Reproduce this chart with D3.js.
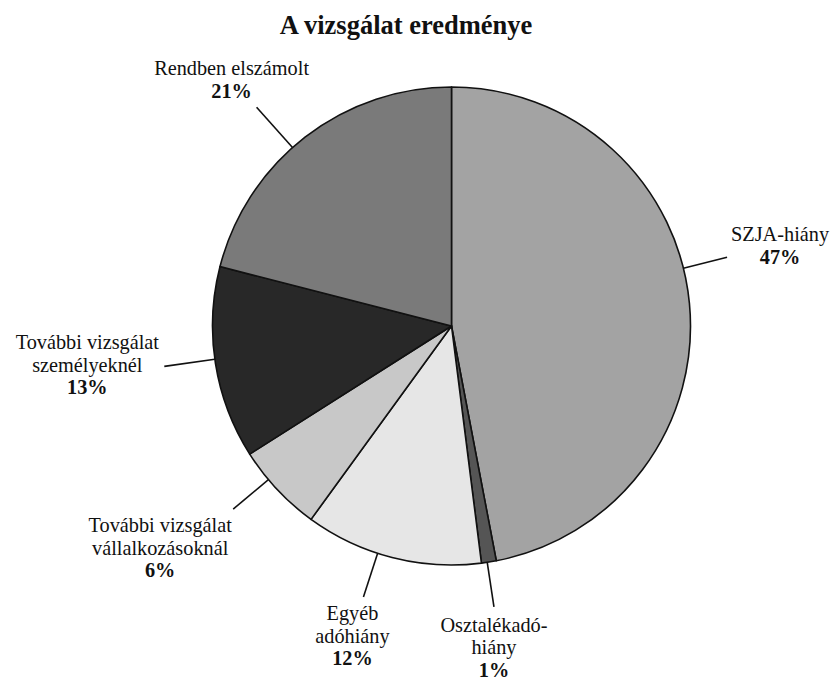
<!DOCTYPE html>
<html>
<head>
<meta charset="utf-8">
<script src="https://cdn.jsdelivr.net/npm/d3@7"></script>
<style>
  body { margin: 0; background: #fff; }
  svg text, svg tspan { font-family: "Liberation Serif", "Times New Roman", serif; fill: #111; }
</style>
</head>
<body>
<svg id="chart"></svg>
<script>
// slice data, clockwise from 12 o'clock
const categories = ["SZJA-hiány", "Osztalékadó-hiány", "Egyéb adóhiány",
    "További vizsgálat vállalkozásoknál", "További vizsgálat személyeknél", "Rendben elszámolt"];
const values = [47, 1, 12, 6, 13, 21];
const labelLines = [
    ["SZJA-hiány"],
    ["Osztalékadó-", "hiány"],
    ["Egyéb", "adóhiány"],
    ["További vizsgálat", "vállalkozásoknál"],
    ["További vizsgálat", "személyeknél"],
    ["Rendben elszámolt"]
];
const fills = ["#a3a3a3", "#555555", "#e6e6e6", "#c8c8c8", "#282828", "#7a7a7a"];

// where each leader line touches the pie (degrees, clockwise from top) and label offset from its outer end
const leaderAngle = [76, 171.4, 198, 230, 262, 318.3];
const leaderLen = [45, 45, 46, 46, 51, 54];
const labelOffset = [[53, -16], [0, 25], [-11, 23], [-73, 23], [-77, -17], [-25, -32]];

const width = 833, height = 681;
const cx = 451.5, cy = 326, radius = 239;
const lineH = 22.5;

const svg = d3.select("#chart").attr("width", width).attr("height", height);

svg.append("text")
    .attr("x", 406)
    .attr("y", 34)
    .attr("text-anchor", "middle")
    .style("font-size", "26.5px")
    .style("font-weight", "bold")
    .text("A vizsgálat eredménye");

const data = categories.map((c, i) => ({ name: c, value: values[i], idx: i }));

const pie = d3.pie().sort(null).value(d => d.value);
const arc = d3.arc().innerRadius(0).outerRadius(radius);

const g = svg.append("g").attr("transform", `translate(${cx},${cy})`);

g.selectAll("path")
    .data(pie(data))
    .join("path")
    .attr("d", arc)
    .attr("fill", d => fills[d.data.idx])
    .attr("stroke", "#111")
    .attr("stroke-width", 1.6)
    .attr("stroke-linejoin", "round");

const rad = a => a * Math.PI / 180;
const polar = (a, r) => [r * Math.sin(rad(a)), -r * Math.cos(rad(a))];

// leader lines
g.selectAll(".leader")
    .data(data)
    .join("line")
    .attr("class", "leader")
    .attr("x1", d => polar(leaderAngle[d.idx], radius)[0])
    .attr("y1", d => polar(leaderAngle[d.idx], radius)[1])
    .attr("x2", d => polar(leaderAngle[d.idx], radius + leaderLen[d.idx])[0])
    .attr("y2", d => polar(leaderAngle[d.idx], radius + leaderLen[d.idx])[1])
    .attr("stroke", "#111")
    .attr("stroke-width", 1.6);

// labels
const labels = g.selectAll(".label")
    .data(data)
    .join("text")
    .attr("class", "label")
    .attr("text-anchor", "middle")
    .attr("transform", d => {
        const p = polar(leaderAngle[d.idx], radius + leaderLen[d.idx]);
        return `translate(${p[0] + labelOffset[d.idx][0]},${p[1] + labelOffset[d.idx][1]})`;
    });

labels.each(function(d) {
    const t = d3.select(this);
    labelLines[d.idx].forEach((line, j) => {
        t.append("tspan")
            .attr("x", 0)
            .attr("y", j * lineH)
            .style("font-size", "20.3px")
            .text(line);
    });
    t.append("tspan")
        .attr("x", 0)
        .attr("y", labelLines[d.idx].length * lineH)
        .style("font-size", "20.3px")
        .style("font-weight", "bold")
        .text(d.value + "%");
});
</script>
</body>
</html>
